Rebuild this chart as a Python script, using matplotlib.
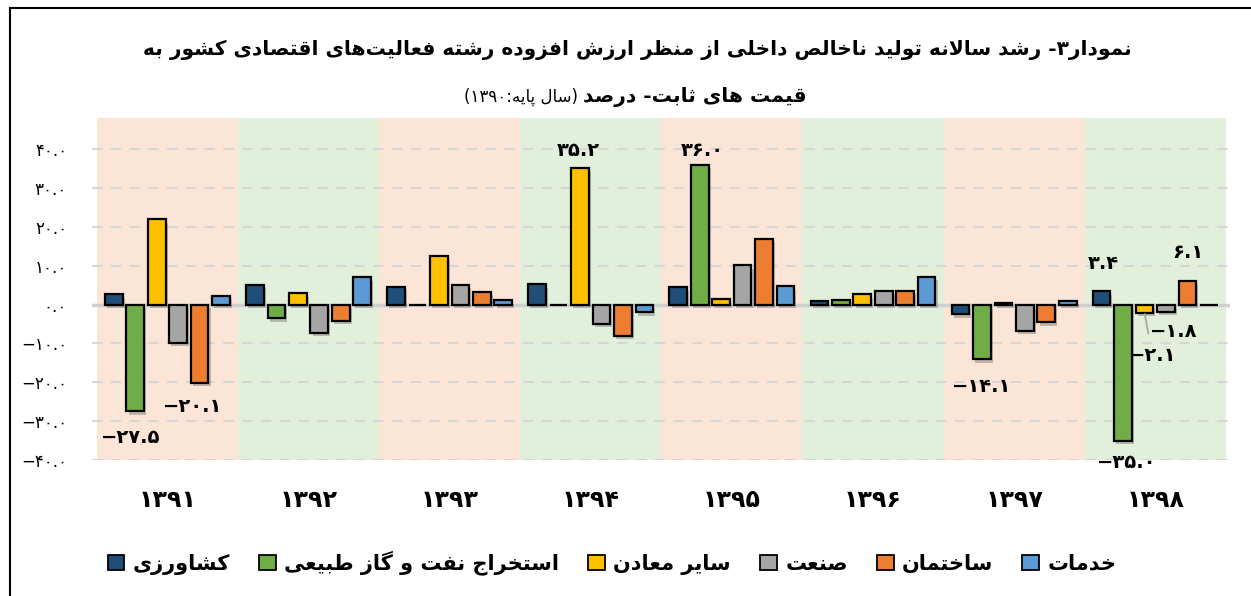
import matplotlib
matplotlib.use("Agg")
import matplotlib.pyplot as plt
import matplotlib.patheffects as pe
from matplotlib.patches import Patch
from matplotlib.lines import Line2D
import re

# --- simple Persian shaping (presentation forms) + RTL ordering ---
FORMS = {
    'ا': (0xFE8D, 0xFE8E), 'آ': (0xFE81, 0xFE82),
    'ب': (0xFE8F, 0xFE90, 0xFE91, 0xFE92), 'پ': (0xFB56, 0xFB57, 0xFB58, 0xFB59),
    'ت': (0xFE95, 0xFE96, 0xFE97, 0xFE98), 'ث': (0xFE99, 0xFE9A, 0xFE9B, 0xFE9C),
    'ج': (0xFE9D, 0xFE9E, 0xFE9F, 0xFEA0), 'چ': (0xFB7A, 0xFB7B, 0xFB7C, 0xFB7D),
    'ح': (0xFEA1, 0xFEA2, 0xFEA3, 0xFEA4), 'خ': (0xFEA5, 0xFEA6, 0xFEA7, 0xFEA8),
    'د': (0xFEA9, 0xFEAA), 'ذ': (0xFEAB, 0xFEAC), 'ر': (0xFEAD, 0xFEAE),
    'ز': (0xFEAF, 0xFEB0), 'ژ': (0xFB8A, 0xFB8B),
    'س': (0xFEB1, 0xFEB2, 0xFEB3, 0xFEB4), 'ش': (0xFEB5, 0xFEB6, 0xFEB7, 0xFEB8),
    'ص': (0xFEB9, 0xFEBA, 0xFEBB, 0xFEBC), 'ض': (0xFEBD, 0xFEBE, 0xFEBF, 0xFEC0),
    'ط': (0xFEC1, 0xFEC2, 0xFEC3, 0xFEC4), 'ظ': (0xFEC5, 0xFEC6, 0xFEC7, 0xFEC8),
    'ع': (0xFEC9, 0xFECA, 0xFECB, 0xFECC), 'غ': (0xFECD, 0xFECE, 0xFECF, 0xFED0),
    'ف': (0xFED1, 0xFED2, 0xFED3, 0xFED4), 'ق': (0xFED5, 0xFED6, 0xFED7, 0xFED8),
    'ک': (0xFB8E, 0xFB8F, 0xFB90, 0xFB91), 'گ': (0xFB92, 0xFB93, 0xFB94, 0xFB95),
    'ل': (0xFEDD, 0xFEDE, 0xFEDF, 0xFEE0), 'م': (0xFEE1, 0xFEE2, 0xFEE3, 0xFEE4),
    'ن': (0xFEE5, 0xFEE6, 0xFEE7, 0xFEE8), 'ه': (0xFEE9, 0xFEEA, 0xFEEB, 0xFEEC),
    'و': (0xFEED, 0xFEEE), 'ی': (0xFBFC, 0xFBFD, 0xFBFE, 0xFBFF),
}
LAM_ALEF = {'ا': (0xFEFB, 0xFEFC), 'آ': (0xFEF5, 0xFEF6)}


def shape(text):
    out = []
    i = 0
    n = len(text)
    while i < n:
        c = text[i]
        if c not in FORMS:
            if c != '\u200c':
                out.append(c)
            i += 1
            continue
        prev = text[i - 1] if i > 0 else ''
        join_prev = prev in FORMS and len(FORMS[prev]) == 4
        if c == 'ل' and i + 1 < n and text[i + 1] in LAM_ALEF:
            out.append(chr(LAM_ALEF[text[i + 1]][1 if join_prev else 0]))
            i += 2
            continue
        nxt = text[i + 1] if i + 1 < n else ''
        join_next = len(FORMS[c]) == 4 and nxt in FORMS
        f = FORMS[c]
        if join_prev and join_next:
            out.append(chr(f[3]))
        elif join_prev:
            out.append(chr(f[1]))
        elif join_next:
            out.append(chr(f[2]))
        else:
            out.append(chr(f[0]))
        i += 1
    s = ''.join(out)[::-1]
    s = re.sub(r'[0-9۰-۹]+(?:[.][0-9۰-۹]+)*', lambda m: m.group(0)[::-1], s)
    s = s.translate(str.maketrans('()', ')('))
    return s


def fa(s):
    return s.translate(str.maketrans('0123456789-', '۰۱۲۳۴۵۶۷۸۹−'))


# --- data ---
years = ['1391', '1392', '1393', '1394', '1395', '1396', '1397', '1398']
series_names = ['کشاورزی', 'استخراج نفت و گاز طبیعی', 'سایر معادن', 'صنعت', 'ساختمان', 'خدمات']
keshavarzi = [2.6, 5.1, 4.6, 5.2, 4.5, 1.0, -2.5, 3.4]
naft_gaz = [-27.5, -3.5, -0.1, -0.1, 36.0, 1.2, -14.1, -35.0]
sayer_maaden = [21.9, 2.9, 12.6, 35.2, 1.4, 2.6, 0.5, -2.1]
sanat = [-9.8, -7.2, 5.1, -4.9, 10.1, 3.4, -6.8, -1.8]
sakhteman = [-20.1, -4.2, 3.3, -8.1, 16.9, 3.5, -4.6, 6.1]
khadamat = [2.2, 7.0, 1.1, -2.0, 4.7, 7.2, 1.0, -0.1]
all_series = [keshavarzi, naft_gaz, sayer_maaden, sanat, sakhteman, khadamat]
colors = ['#1F4E79', '#70AD47', '#FFC000', '#A5A5A5', '#ED7D31', '#5B9BD5']

# labelled bars: (series, year index, dx px, dy px)
labelled = [(1, 0, -5, -26), (4, 0, -7, -24), (2, 3, -2, 17), (1, 4, 3, 14),
            (1, 6, 0, -27), (0, 7, 2, 28), (4, 7, 1, 28), (3, 7, 8, -20),
            (2, 7, 8, -43), (1, 7, 4, -22)]

title1 = 'نمودار۳- رشد سالانه تولید ناخالص داخلی از منظر ارزش افزوده رشته فعالیت\u200cهای اقتصادی کشور به'
title2a = 'قیمت های ثابت- درصد'
title2b = '(سال پایه:۱۳۹۰)'

plt.rcParams['font.family'] = ['DejaVu Sans']

W, H = 1251, 596
fig = plt.figure(figsize=(W / 100, H / 100), dpi=100)
ax = fig.add_axes([92 / W, 1 - 460 / H, (1230 - 92) / W, (460 - 118) / H])

pink = '#FBE5D6'
green = '#E2EFDA'
for i in range(len(years)):
    ax.axvspan(i - 0.5, i + 0.5, color=pink if i % 2 == 0 else green, zorder=0, lw=0)

ax.set_ylim(-40, 48)
ax.set_xlim(-0.535, 7.53)
ticks = list(range(-40, 41, 10))
ax.set_yticks(ticks)
ax.set_yticklabels([fa(f'{t:.1f}') for t in ticks], fontsize=12)
for t in ticks:
    if t != 0:
        ax.axhline(t, color='#D6D6D6', lw=1.5, ls=(0, (5, 4)), zorder=1)
ax.axhline(0, color='#CFCFCF', lw=2.5, zorder=2)

pitch = 0.152
width = 0.125
shadow = [pe.SimplePatchShadow(offset=(1.5, -2.5), alpha=0.35, shadow_rgbFace='#555555'), pe.Normal()]
xs = list(range(len(years)))
for k, vals in enumerate(all_series):
    pos = [x + (k - 2.5) * pitch for x in xs]
    bars = ax.bar(pos, vals, width=width, color=colors[k], edgecolor='black', lw=1.6, zorder=3)
    for b in bars:
        b.set_path_effects(shadow)

for k, yi, dx, dy in labelled:
    v = all_series[k][yi]
    xb = yi + (k - 2.5) * pitch
    ann = dict(xy=(xb, v), xytext=(dx * 0.72, dy * 0.72), textcoords='offset points',
               ha='center', va='center', fontsize=14, fontweight='bold', zorder=5)
    if k == 2 and yi == 7:
        ann['arrowprops'] = dict(arrowstyle='-', color='#A8A8A8', lw=1.3, shrinkA=7, shrinkB=1)
    ax.annotate(fa(f'{v:.1f}'), **ann)

ax.set_xticks(xs)
ax.set_xticklabels([fa(y) for y in years], fontsize=17, fontweight='bold')
ax.tick_params(axis='x', length=0, pad=20)
ax.tick_params(axis='y', length=0, pad=18)
for s in ax.spines.values():
    s.set_visible(False)

fig.text((148 + 1127) / 2 / W, 1 - 50 / H, shape(title1), ha='center', va='center',
         fontsize=14.5, fontweight='bold')
fig.text(583 / W, 1 - 97 / H, shape(title2a), ha='left', va='center', fontsize=14.5,
         fontweight='bold')
fig.text(578 / W, 1 - 97 / H, shape(title2b), ha='right', va='center', fontsize=12)

handles = [Patch(facecolor=c, edgecolor='black', lw=1.3) for c in colors]
fig.legend(handles, [shape(s) for s in series_names], loc='center', bbox_to_anchor=(612 / W, 1 - 563 / H),
           ncol=6, frameon=False, prop={'size': 15, 'weight': 'bold'}, handlelength=0.8, handleheight=0.8,
           handletextpad=0.4, columnspacing=1.4)

fig.add_artist(Line2D([10 / W, 1], [1 - 8 / H, 1 - 8 / H], color='black', lw=1.5))
fig.add_artist(Line2D([10 / W, 10 / W], [0, 1 - 8 / H], color='black', lw=1.5))

fig.savefig('out.png', dpi=100)
